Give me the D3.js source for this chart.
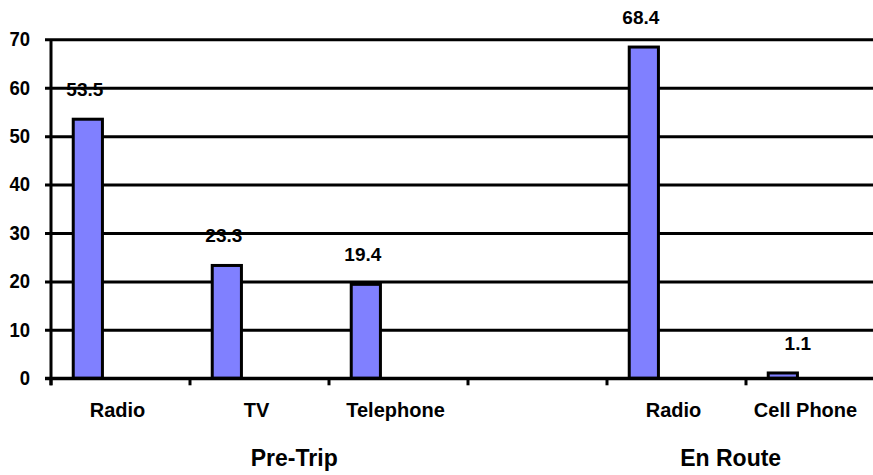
<!DOCTYPE html>
<html>
<head>
<meta charset="utf-8">
<script src="https://cdn.jsdelivr.net/npm/d3@7/dist/d3.min.js"></script>
<style>
  html, body { margin: 0; padding: 0; background: #fff; }
  svg { display: block; font-family: "Liberation Sans", Arial, sans-serif; font-weight: bold; }
</style>
</head>
<body>
<svg id="chart" width="873" height="475"></svg>
<script>
// Information sources used, by trip stage (percent)
const categories = ["Radio", "TV", "Telephone", "", "Radio", "Cell Phone"];
const values = [53.5, 23.3, 19.4, null, 68.4, 1.1];
const groups = ["Pre-Trip", "En Route"];
const groupMembers = [[0, 1, 2, 3], [4, 5]];
const yTicks = [0, 10, 20, 30, 40, 50, 60, 70];

const svg = d3.select("#chart");
const plotLeft = 51, plotTop = 39.3, plotBottom = 378.3, plotRight = 885;

const idx = d3.range(categories.length);
const x = d3.scaleBand().domain(idx).range([plotLeft, plotRight]).padding(0);
const y = d3.scaleLinear().domain([0, 70]).range([plotBottom, plotTop]);
const bw = x.bandwidth();

// horizontal gridlines + y axis labels
const yAxis = d3.axisLeft(y).tickValues(yTicks).tickSize(6).tickPadding(15);
const gy = svg.append("g").attr("transform", `translate(${plotLeft},0)`).call(yAxis);
gy.select(".domain").remove();
gy.selectAll(".tick line").attr("stroke", "#000").attr("stroke-width", 3)
  .attr("x1", -6).attr("x2", plotRight - plotLeft);
gy.selectAll(".tick text").attr("fill", "#000").attr("font-size", 18.5)
  .attr("font-weight", "bold").attr("font-family", "Liberation Sans, Arial, sans-serif")
  .attr("transform", "scale(1,1.08)");

// vertical axis line
svg.append("line")
  .attr("x1", plotLeft).attr("x2", plotLeft).attr("y1", plotTop).attr("y2", plotBottom + 7)
  .attr("stroke", "#000").attr("stroke-width", 3);

// category boundary ticks below the baseline
svg.append("g").selectAll("line").data(idx).join("line")
  .attr("x1", d => x(d)).attr("x2", d => x(d))
  .attr("y1", plotBottom).attr("y2", plotBottom + 7)
  .attr("stroke", "#000").attr("stroke-width", 3);

// bars
const barOff = 0.16 * bw, barW = 0.21 * bw;
const data = idx.filter(i => values[i] != null).map(i => ({ i, v: values[i] }));
svg.append("g").selectAll("rect").data(data).join("rect")
  .attr("x", d => x(d.i) + barOff)
  .attr("y", d => y(d.v))
  .attr("width", barW)
  .attr("height", d => y(0) - y(d.v))
  .attr("fill", "#8080FF")
  .attr("stroke", "#000")
  .attr("stroke-width", 3);

// baseline drawn over bar bottoms
svg.append("line")
  .attr("x1", plotLeft - 6).attr("x2", plotRight).attr("y1", plotBottom).attr("y2", plotBottom)
  .attr("stroke", "#000").attr("stroke-width", 3);

// value labels
const labelNudge = { 5: 18 };
svg.append("g").selectAll("text").data(data).join("text")
  .attr("x", d => x(d.i) + barOff + barW / 2 - 3 + (labelNudge[d.i] || 0))
  .attr("y", d => y(d.v) - 23)
  .attr("text-anchor", "middle")
  .attr("font-size", 19)
  .attr("fill", "#000")
  .text(d => d.v.toFixed(1));

// category labels
const catNudge = { 5: -7 };
svg.append("g").selectAll("text").data(idx).join("text")
  .attr("x", d => x(d) + bw / 2 - 3 + (catNudge[d] || 0))
  .attr("y", 416.5)
  .attr("text-anchor", "middle")
  .attr("font-size", 20)
  .attr("fill", "#000")
  .text(d => categories[d]);

// group labels
const groupCenter = [
  x(groupMembers[0][0]) + 1.75 * bw,
  x(groupMembers[1][0]) + 0.89 * bw
];
svg.append("g").selectAll("text").data(groups).join("text")
  .attr("x", (d, i) => groupCenter[i])
  .attr("y", 466)
  .attr("text-anchor", "middle")
  .attr("font-size", 23)
  .attr("fill", "#000")
  .text(d => d);
</script>
</body>
</html>
